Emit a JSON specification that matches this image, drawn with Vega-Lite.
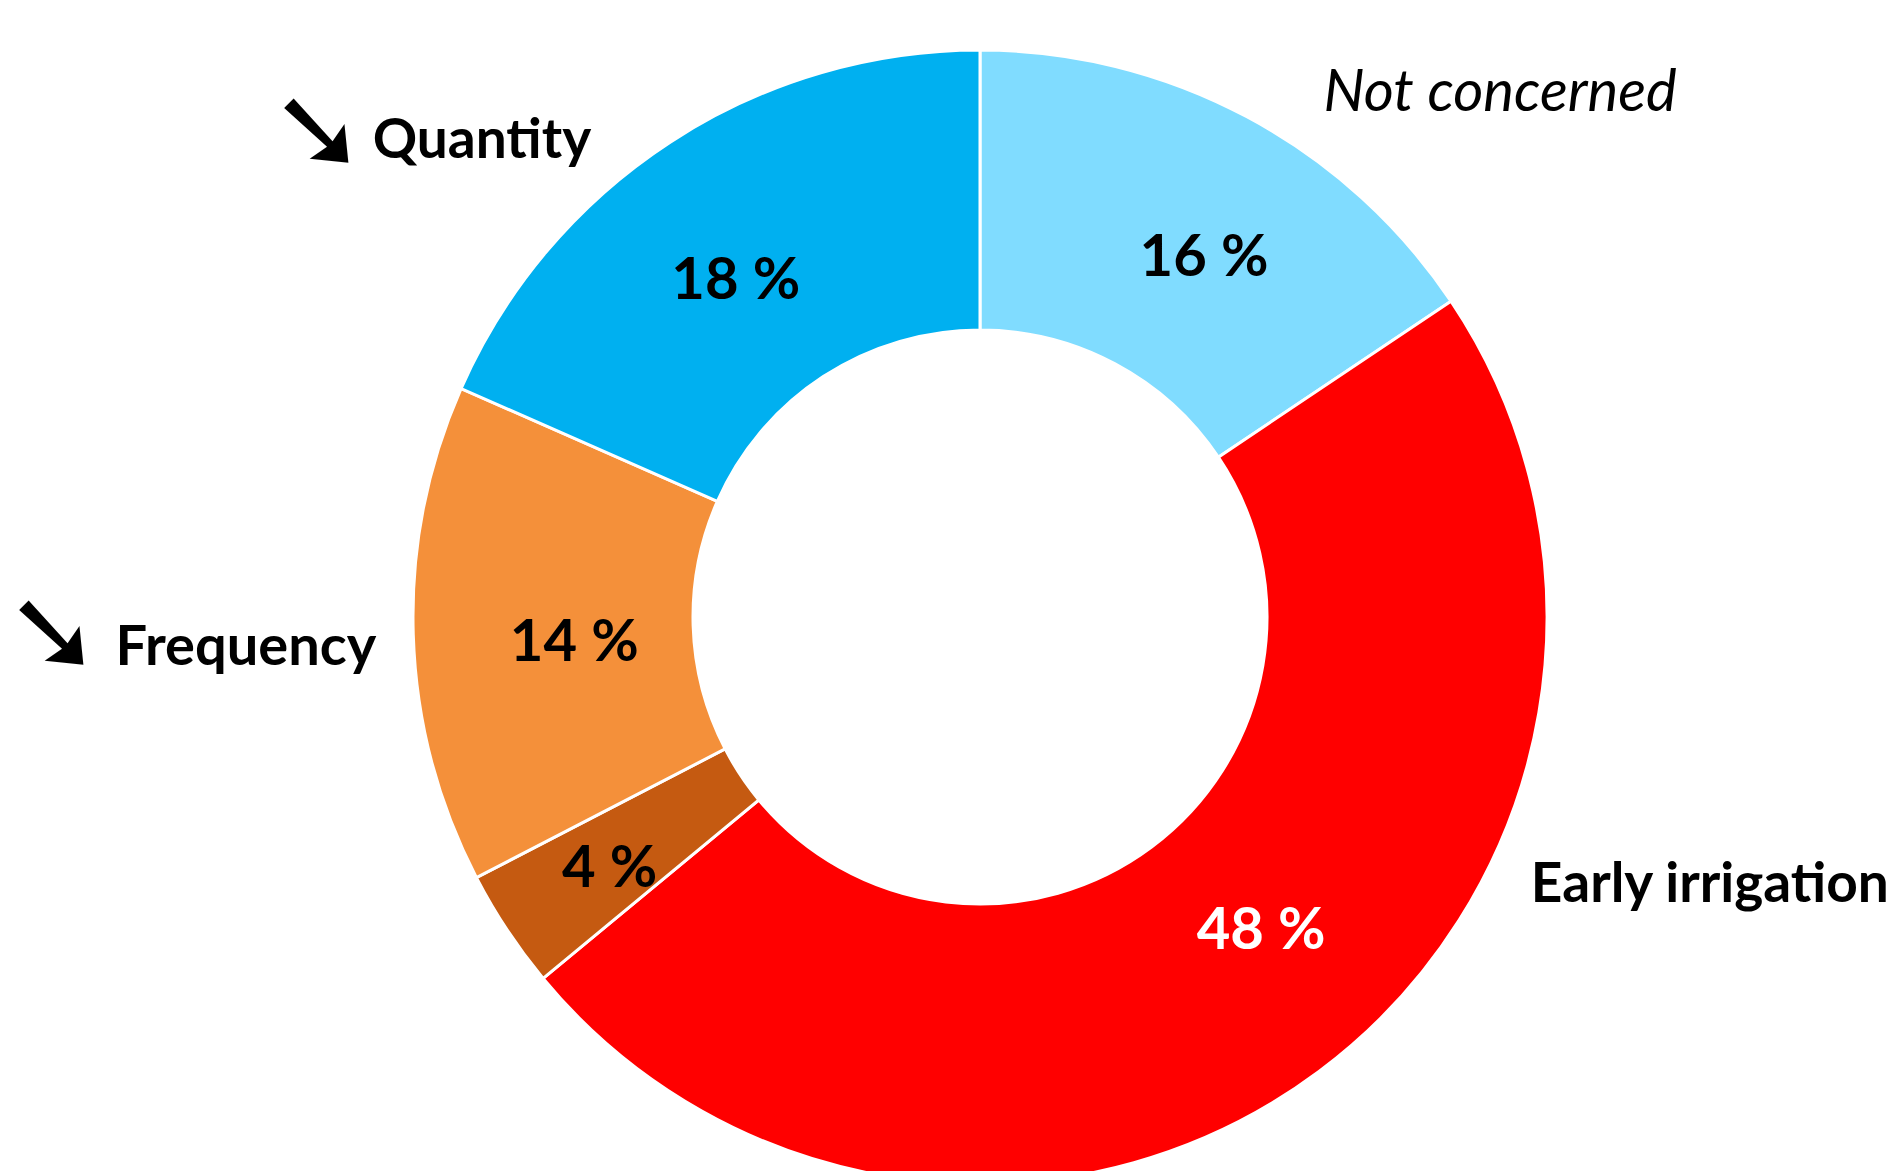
{
  "$schema": "https://vega.github.io/schema/vega-lite/v6.json",
  "autosize": "none",
  "width": 1820,
  "height": 1108,
  "padding": {"left": 70, "top": 63, "right": 0, "bottom": 0},
  "background": "white",
  "config": {"view": {"stroke": null}, "text": {"font": "Lato", "baseline": "middle"}},
  "data": {
    "values": [
      {"category": "Not concerned", "value": 15.6, "label": "16 %", "order": 1},
      {"category": "Early irrigation", "value": 48.4, "label": "48 %", "order": 2},
      {"category": "Other", "value": 3.4, "label": "4 %", "order": 3},
      {"category": "Frequency", "value": 14.2, "label": "14 %", "order": 4},
      {"category": "Quantity", "value": 18.4, "label": "18 %", "order": 5}
    ]
  },
  "encoding": {
    "theta": {"field": "value", "type": "quantitative", "stack": true},
    "order": {"field": "order", "type": "quantitative"},
    "detail": {"field": "category", "type": "nominal"}
  },
  "layer": [
    {
      "mark": {"type": "arc", "radius": 567, "radius2": 287, "stroke": "white", "strokeWidth": 3},
      "encoding": {
        "color": {
          "field": "category",
          "type": "nominal",
          "scale": {
            "domain": ["Not concerned", "Early irrigation", "Other", "Frequency", "Quantity"],
            "range": ["#80DCFF", "#FF0000", "#C55A11", "#F4903A", "#00B0F0"]
          },
          "legend": null
        }
      }
    },
    {
      "mark": {"type": "text", "radius": 425, "dx": 24, "dy": 17, "fontSize": 58, "fontWeight": "bold", "color": "black"},
      "encoding": {
        "text": {"condition": {"test": "datum.category === 'Not concerned'", "field": "label", "type": "nominal"}, "value": ""}
      }
    },
    {
      "mark": {"type": "text", "radius": 425, "dx": -12, "dy": 21, "fontSize": 58, "fontWeight": "bold", "color": "black"},
      "encoding": {
        "text": {"condition": {"test": "datum.category === 'Quantity'", "field": "label", "type": "nominal"}, "value": ""}
      }
    },
    {
      "mark": {"type": "text", "radius": 425, "dx": 19, "dy": 14, "fontSize": 58, "fontWeight": "bold", "color": "black"},
      "encoding": {
        "text": {"condition": {"test": "datum.category === 'Frequency'", "field": "label", "type": "nominal"}, "value": ""}
      }
    },
    {
      "mark": {"type": "text", "radius": 425, "dx": -16, "dy": 19, "fontSize": 58, "fontWeight": "bold", "color": "black"},
      "encoding": {
        "text": {"condition": {"test": "datum.category === 'Other'", "field": "label", "type": "nominal"}, "value": ""}
      }
    },
    {
      "mark": {"type": "text", "radius": 425, "dx": 27, "dy": -26, "fontSize": 58, "fontWeight": "bold", "color": "white"},
      "encoding": {
        "text": {"condition": {"test": "datum.category === 'Early irrigation'", "field": "label", "type": "nominal"}, "value": ""}
      }
    },
    {
      "mark": {"type": "text", "radius": 600, "align": "left", "dx": 61, "dy": 6, "fontSize": 58, "fontStyle": "italic", "fontWeight": "normal", "color": "black"},
      "encoding": {
        "text": {"condition": {"test": "datum.category === 'Not concerned'", "field": "category", "type": "nominal"}, "value": ""}
      }
    },
    {
      "mark": {"type": "text", "radius": 600, "align": "left", "dx": 192, "dy": -213, "fontSize": 55, "fontWeight": "bold", "color": "black"},
      "encoding": {
        "text": {"condition": {"test": "datum.category === 'Early irrigation'", "field": "category", "type": "nominal"}, "value": ""}
      }
    },
    {
      "mark": {"type": "text", "radius": 600, "align": "right", "dx": -4, "dy": 12, "fontSize": 56, "fontWeight": "bold", "color": "black"},
      "encoding": {
        "text": {"condition": {"test": "datum.category === 'Frequency'", "field": "category", "type": "nominal"}, "value": ""}
      }
    },
    {
      "mark": {"type": "text", "radius": 600, "align": "right", "dx": -61, "dy": 27, "fontSize": 55, "fontWeight": "bold", "color": "black"},
      "encoding": {
        "text": {"condition": {"test": "datum.category === 'Quantity'", "field": "category", "type": "nominal"}, "value": ""}
      }
    },
    {
      "mark": {"type": "text", "radius": 600, "align": "center", "dx": -334, "dy": 20, "fontSize": 115, "font": "DejaVu Sans", "color": "black"},
      "encoding": {
        "text": {"condition": {"test": "datum.category === 'Quantity'", "value": "➘"}, "value": ""}
      }
    },
    {
      "mark": {"type": "text", "radius": 600, "align": "center", "dx": -327, "dy": 0, "fontSize": 115, "font": "DejaVu Sans", "color": "black"},
      "encoding": {
        "text": {"condition": {"test": "datum.category === 'Frequency'", "value": "➘"}, "value": ""}
      }
    }
  ]
}
